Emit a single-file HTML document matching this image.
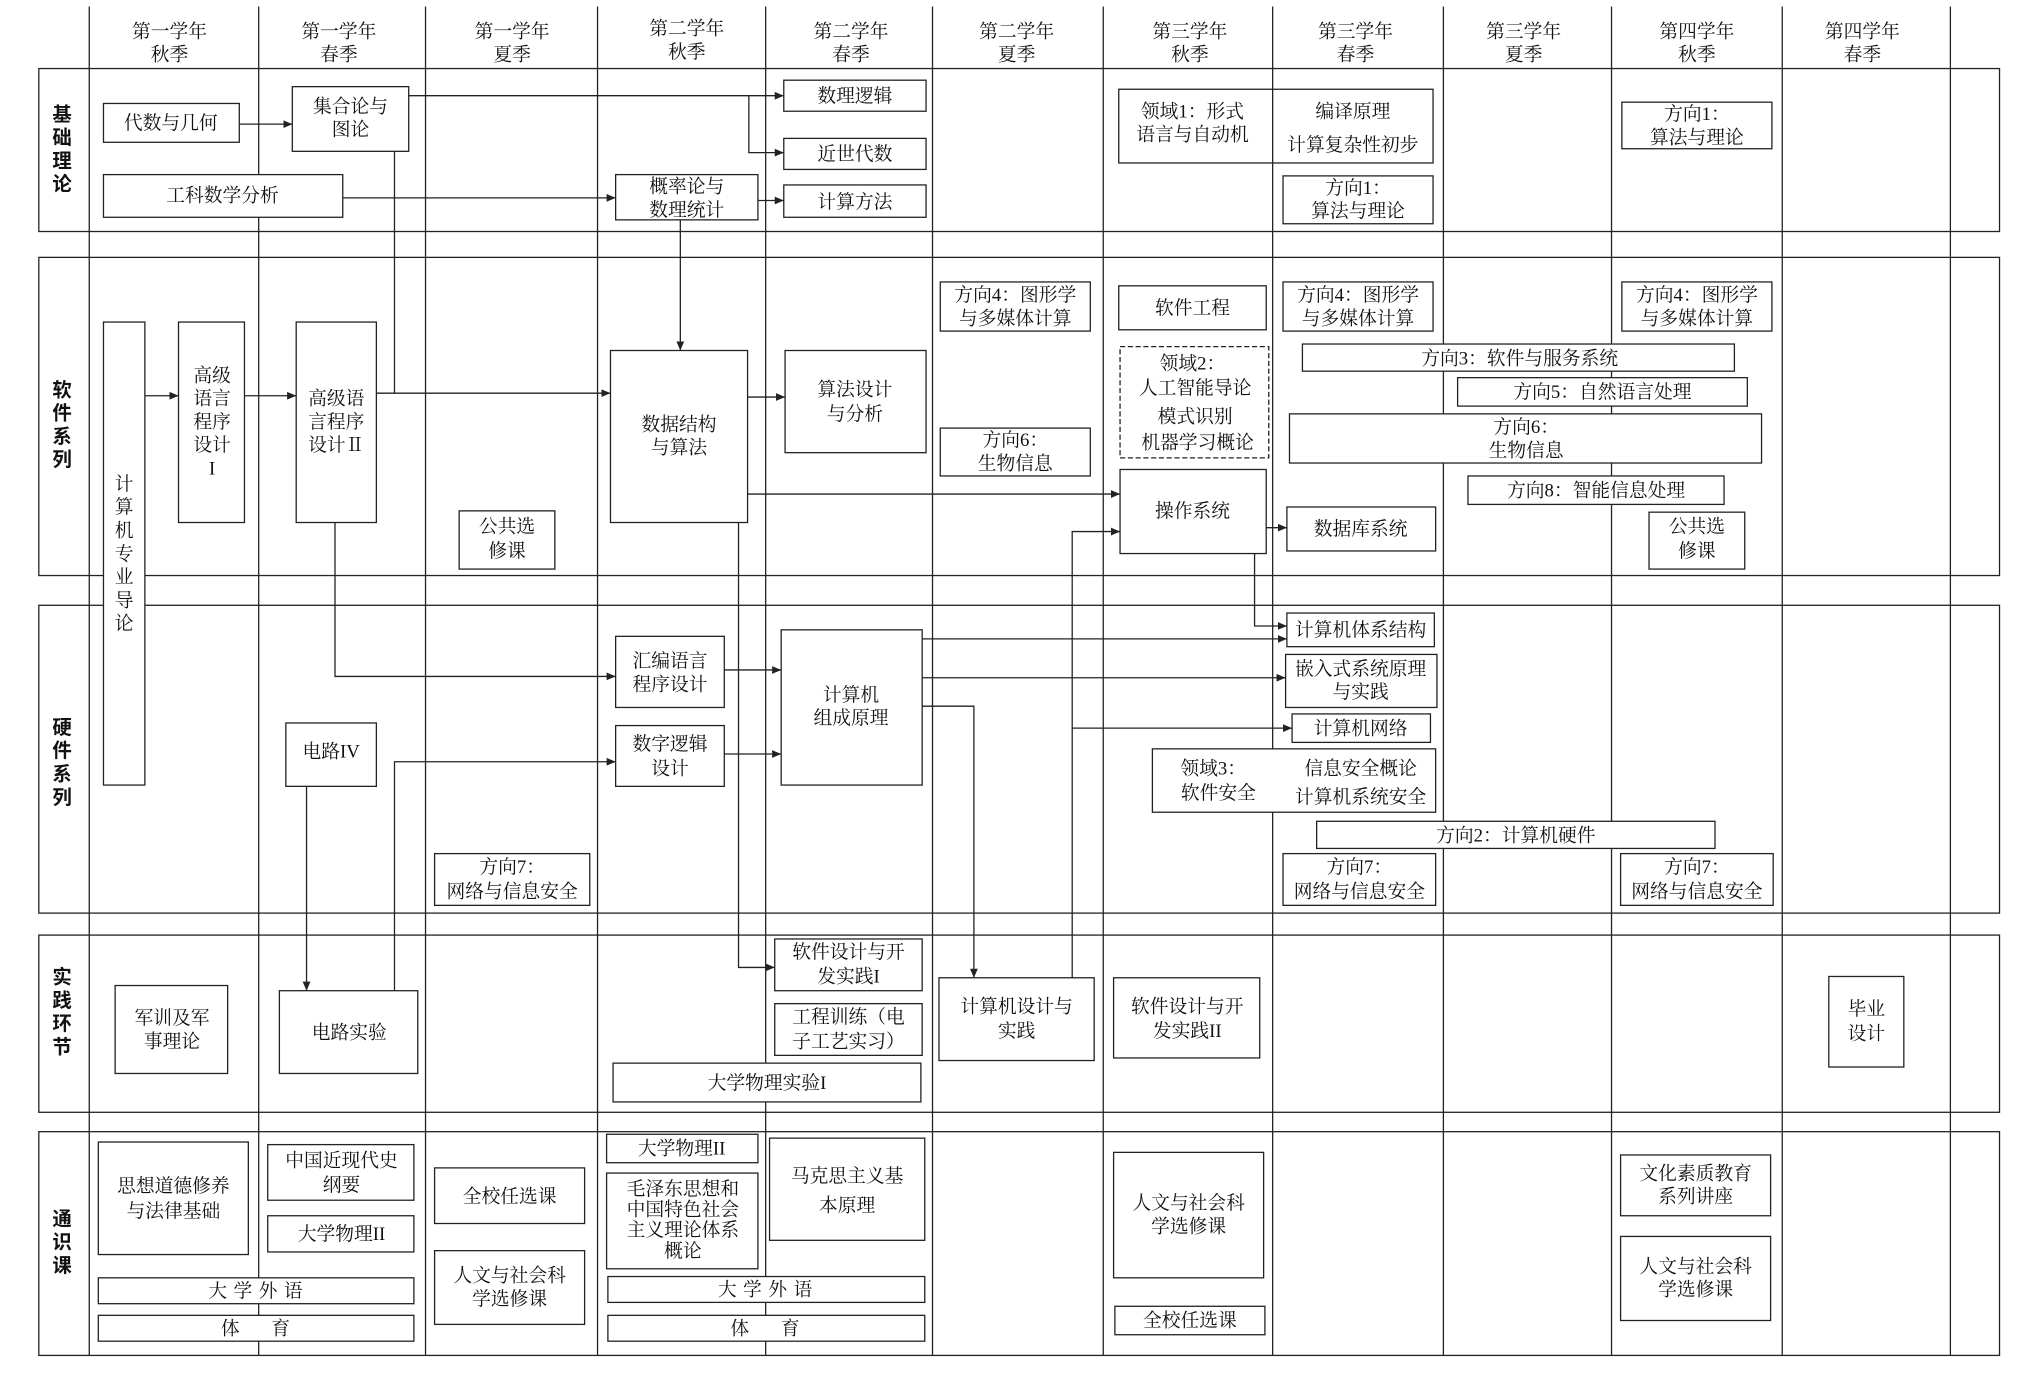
<!DOCTYPE html>
<html><head><meta charset="utf-8"><style>
html,body{margin:0;padding:0;background:#fff;width:2028px;height:1380px;overflow:hidden}
text{font-family:"Liberation Serif","Noto Serif CJK SC",serif;font-size:14.5px;fill:#111;text-anchor:middle;dominant-baseline:middle;transform:translateY(1.5px)}
.h{font-size:14px}
.s{font-family:"Liberation Sans","Noto Sans CJK SC",sans-serif;font-weight:bold;font-size:15px}
.w{letter-spacing:5px}
rect{fill:#fff;stroke:#222;stroke-width:1}
line,polyline{stroke:#222;stroke-width:1;fill:none}
</style></head><body>
<svg width="2028" height="1380" viewBox="0 0 1568 1067" xmlns="http://www.w3.org/2000/svg">
<defs><marker id="a" markerWidth="8" markerHeight="8" refX="7" refY="4" orient="auto" markerUnits="userSpaceOnUse"><path d="M0,1 L7,4 L0,7 z" fill="#222"/></marker></defs>
<rect x="0" y="0" width="1568" height="1067" style="fill:#fff;stroke:none"/>
<rect x="30" y="53" width="1516" height="126"/>
<rect x="30" y="199" width="1516" height="246"/>
<rect x="30" y="468" width="1516" height="238"/>
<rect x="30" y="723" width="1516" height="137"/>
<rect x="30" y="875" width="1516" height="173"/>
<g>
<line x1="69" y1="5" x2="69" y2="1048"/><line x1="200" y1="5" x2="200" y2="1048"/><line x1="329" y1="5" x2="329" y2="1048"/><line x1="462" y1="5" x2="462" y2="1048"/><line x1="592" y1="5" x2="592" y2="1048"/><line x1="721" y1="5" x2="721" y2="1048"/><line x1="853" y1="5" x2="853" y2="1048"/><line x1="984" y1="5" x2="984" y2="1048"/><line x1="1116" y1="5" x2="1116" y2="1048"/><line x1="1246" y1="5" x2="1246" y2="1048"/><line x1="1378" y1="5" x2="1378" y2="1048"/><line x1="1508" y1="5" x2="1508" y2="1048"/>
</g>
<g class="h">
<text x="131" y="24">第一学年</text><text x="131" y="42">秋季</text>
<text x="262" y="24">第一学年</text><text x="262" y="42">春季</text>
<text x="396" y="24">第一学年</text><text x="396" y="42">夏季</text>
<text x="531" y="22">第二学年</text><text x="531" y="40">秋季</text>
<text x="658" y="24">第二学年</text><text x="658" y="42">春季</text>
<text x="786" y="24">第二学年</text><text x="786" y="42">夏季</text>
<text x="920" y="24">第三学年</text><text x="920" y="42">秋季</text>
<text x="1048" y="24">第三学年</text><text x="1048" y="42">春季</text>
<text x="1178" y="24">第三学年</text><text x="1178" y="42">夏季</text>
<text x="1312" y="24">第四学年</text><text x="1312" y="42">秋季</text>
<text x="1440" y="24">第四学年</text><text x="1440" y="42">春季</text>
</g>
<g class="s">
<text class="s" x="48" y="88">基</text><text class="s" x="48" y="106">础</text><text class="s" x="48" y="124">理</text><text class="s" x="48" y="142">论</text>
<text class="s" x="48" y="301">软</text><text class="s" x="48" y="319">件</text><text class="s" x="48" y="337">系</text><text class="s" x="48" y="355">列</text>
<text class="s" x="48" y="562">硬</text><text class="s" x="48" y="580">件</text><text class="s" x="48" y="598">系</text><text class="s" x="48" y="616">列</text>
<text class="s" x="48" y="755">实</text><text class="s" x="48" y="773">践</text><text class="s" x="48" y="791">环</text><text class="s" x="48" y="809">节</text>
<text class="s" x="48" y="942">通</text><text class="s" x="48" y="960">识</text><text class="s" x="48" y="978">课</text>
</g>
<g>
<line x1="185" y1="96" x2="226" y2="96" marker-end="url(#a)"/>
<line x1="316" y1="74" x2="606" y2="74" marker-end="url(#a)"/>
<polyline points="579,74 579,118 606,118" marker-end="url(#a)"/>
<polyline points="305,117 305,304"/>
<line x1="265" y1="153" x2="476" y2="153" marker-end="url(#a)"/>
<line x1="586" y1="155" x2="606" y2="155" marker-end="url(#a)"/>
<line x1="526" y1="170" x2="526" y2="271" marker-end="url(#a)"/>
<line x1="112" y1="306" x2="138" y2="306" marker-end="url(#a)"/>
<line x1="189" y1="306" x2="229" y2="306" marker-end="url(#a)"/>
<line x1="291" y1="304" x2="472" y2="304" marker-end="url(#a)"/>
<line x1="578" y1="307" x2="607" y2="307" marker-end="url(#a)"/>
<line x1="578" y1="382" x2="866" y2="382" marker-end="url(#a)"/>
<polyline points="259,404 259,523 476,523" marker-end="url(#a)"/>
<line x1="560" y1="518" x2="604" y2="518" marker-end="url(#a)"/>
<line x1="560" y1="583" x2="604" y2="583" marker-end="url(#a)"/>
<line x1="237" y1="608" x2="237" y2="766" marker-end="url(#a)"/>
<polyline points="305,766 305,589 476,589" marker-end="url(#a)"/>
<polyline points="571,404 571,748 599,748" marker-end="url(#a)"/>
<line x1="713" y1="494" x2="995" y2="494" marker-end="url(#a)"/>
<line x1="713" y1="524" x2="994" y2="524" marker-end="url(#a)"/>
<polyline points="713,546 753,546 753,756" marker-end="url(#a)"/>
<polyline points="829,756 829,563 999,563" marker-end="url(#a)"/>
<polyline points="829,563 829,411 866,411" marker-end="url(#a)"/>
<line x1="979" y1="408" x2="995" y2="408" marker-end="url(#a)"/>
<polyline points="970,428 970,484 995,484" marker-end="url(#a)"/>
</g>
<rect x="80" y="80" width="105" height="30"/><text x="132" y="95">代数与几何</text>
<rect x="226" y="67" width="90" height="50"/><text x="271" y="82">集合论与</text><text x="271" y="100">图论</text>
<rect x="80" y="135" width="185" height="33"/><text x="172" y="151">工科数学分析</text>
<rect x="476" y="135" width="110" height="35"/><text x="531" y="144">概率论与</text><text x="531" y="162">数理统计</text>
<rect x="606" y="62" width="110" height="24"/><text x="661" y="74">数理逻辑</text>
<rect x="606" y="107" width="110" height="24"/><text x="661" y="119">近世代数</text>
<rect x="606" y="143" width="110" height="25"/><text x="661" y="156">计算方法</text>
<rect x="865" y="69" width="119" height="57"/><text x="922" y="86">领域1：形式</text><text x="922" y="104">语言与自动机</text>
<rect x="984" y="69" width="124" height="57"/><text x="1046" y="86">编译原理</text><text x="1046" y="112">计算复杂性初步</text>
<rect x="992" y="136" width="116" height="37"/><text x="1050" y="145">方向1：</text><text x="1050" y="163">算法与理论</text>
<rect x="1254" y="79" width="116" height="36"/><text x="1312" y="88">方向1：</text><text x="1312" y="106">算法与理论</text>
<rect x="80" y="249" width="32" height="358"/>
<text x="96" y="374">计</text><text x="96" y="392">算</text><text x="96" y="410">机</text><text x="96" y="428">专</text><text x="96" y="446">业</text><text x="96" y="464">导</text><text x="96" y="482">论</text>
<rect x="138" y="249" width="51" height="155"/><text x="164" y="290">高级</text><text x="164" y="308">语言</text><text x="164" y="326">程序</text><text x="164" y="344">设计</text><text x="164" y="362">I</text>
<rect x="229" y="249" width="62" height="155"/><text x="260" y="308">高级语</text><text x="260" y="326">言程序</text><text x="260" y="344">设计Ⅱ</text>
<rect x="472" y="271" width="106" height="133"/><text x="525" y="328">数据结构</text><text x="525" y="346">与算法</text>
<rect x="607" y="271" width="109" height="79"/><text x="661" y="301">算法设计</text><text x="661" y="320">与分析</text>
<rect x="355" y="395" width="74" height="45"/><text x="392" y="407">公共选</text><text x="392" y="426">修课</text>
<rect x="727" y="218" width="116" height="38"/><text x="785" y="228">方向4：图形学</text><text x="785" y="246">与多媒体计算</text>
<rect x="727" y="331" width="116" height="37"/><text x="785" y="340">方向6：</text><text x="785" y="358">生物信息</text>
<rect x="865" y="221" width="114" height="34"/><text x="922" y="238">软件工程</text>
<rect x="866" y="268" width="115" height="86" style="stroke-dasharray:4,2"/><text x="922" y="281">领域2：</text><text x="924" y="300">人工智能导论</text><text x="924" y="322">模式识别</text><text x="926" y="342">机器学习概论</text>
<rect x="866" y="363" width="113" height="65"/><text x="922" y="395">操作系统</text>
<rect x="992" y="218" width="116" height="38"/><text x="1050" y="228">方向4：图形学</text><text x="1050" y="246">与多媒体计算</text>
<rect x="1254" y="218" width="116" height="38"/><text x="1312" y="228">方向4：图形学</text><text x="1312" y="246">与多媒体计算</text>
<rect x="1007" y="266" width="334" height="21"/><text x="1175" y="277">方向3：软件与服务系统</text>
<rect x="1127" y="292" width="224" height="22"/><text x="1239" y="303">方向5：自然语言处理</text>
<rect x="997" y="320" width="365" height="38"/><text x="1180" y="330">方向6：</text><text x="1180" y="348">生物信息</text>
<rect x="1135" y="368" width="198" height="22"/><text x="1234" y="379">方向8：智能信息处理</text>
<rect x="995" y="392" width="115" height="34"/><text x="1052" y="409">数据库系统</text>
<rect x="1275" y="396" width="74" height="44"/><text x="1312" y="407">公共选</text><text x="1312" y="426">修课</text>
<rect x="476" y="492" width="84" height="55"/><text x="518" y="511">汇编语言</text><text x="518" y="529">程序设计</text>
<rect x="476" y="561" width="84" height="47"/><text x="518" y="575">数字逻辑</text><text x="518" y="594">设计</text>
<rect x="604" y="487" width="109" height="120"/><text x="658" y="537">计算机</text><text x="658" y="555">组成原理</text>
<rect x="221" y="559" width="70" height="49"/><text x="256" y="581">电路IV</text>
<rect x="995" y="474" width="114" height="26"/><text x="1052" y="487">计算机体系结构</text>
<rect x="994" y="506" width="117" height="41"/><text x="1052" y="517">嵌入式系统原理</text><text x="1052" y="535">与实践</text>
<rect x="999" y="552" width="107" height="22"/><text x="1052" y="563">计算机网络</text>
<rect x="891" y="579" width="219" height="49"/><text x="938" y="594">领域3：</text><text x="942" y="613">软件安全</text><text x="1052" y="594">信息安全概论</text><text x="1052" y="616">计算机系统安全</text>
<rect x="1018" y="635" width="308" height="21"/><text x="1172" y="646">方向2：计算机硬件</text>
<rect x="336" y="660" width="120" height="40"/><text x="396" y="670">方向7：</text><text x="396" y="689">网络与信息安全</text>
<rect x="992" y="660" width="118" height="40"/><text x="1051" y="670">方向7：</text><text x="1051" y="689">网络与信息安全</text>
<rect x="1253" y="660" width="118" height="40"/><text x="1312" y="670">方向7：</text><text x="1312" y="689">网络与信息安全</text>
<rect x="89" y="762" width="87" height="68"/><text x="133" y="787">军训及军</text><text x="133" y="805">事理论</text>
<rect x="216" y="766" width="107" height="64"/><text x="270" y="798">电路实验</text>
<rect x="599" y="726" width="114" height="40"/><text x="656" y="736">软件设计与开</text><text x="656" y="755">发实践I</text>
<rect x="599" y="776" width="114" height="40"/><text x="656" y="786">工程训练（电</text><text x="656" y="805">子工艺实习）</text>
<rect x="474" y="822" width="238" height="30"/><text x="593" y="837">大学物理实验I</text>
<rect x="726" y="756" width="120" height="64"/><text x="786" y="778">计算机设计与</text><text x="786" y="797">实践</text>
<rect x="861" y="756" width="113" height="62"/><text x="918" y="778">软件设计与开</text><text x="918" y="797">发实践II</text>
<rect x="1414" y="755" width="58" height="70"/><text x="1443" y="780">毕业</text><text x="1443" y="799">设计</text>
<rect x="76" y="883" width="116" height="87"/><text x="134" y="917">思想道德修养</text><text x="134" y="936">与法律基础</text>
<rect x="207" y="885" width="113" height="43"/><text x="264" y="897">中国近现代史</text><text x="264" y="916">纲要</text>
<rect x="207" y="940" width="113" height="28"/><text x="264" y="954">大学物理II</text>
<rect x="76" y="988" width="244" height="20"/><text class="w" x="200" y="998">大学外语</text>
<rect x="76" y="1017" width="244" height="20"/><text class="w" x="200" y="1027">体　育</text>
<rect x="336" y="903" width="116" height="43"/><text x="394" y="925">全校任选课</text>
<rect x="336" y="967" width="116" height="57"/><text x="394" y="986">人文与社会科</text><text x="394" y="1004">学选修课</text>
<rect x="469" y="877" width="117" height="22"/><text x="527" y="888">大学物理II</text>
<rect x="469" y="907" width="117" height="74"/><text x="528" y="919">毛泽东思想和</text><text x="528" y="935">中国特色社会</text><text x="528" y="951">主义理论体系</text><text x="528" y="967">概论</text>
<rect x="595" y="880" width="120" height="79"/><text x="655" y="909">马克思主义基</text><text x="655" y="932">本原理</text>
<rect x="470" y="987" width="245" height="20"/><text class="w" x="594" y="997">大学外语</text>
<rect x="470" y="1017" width="245" height="20"/><text class="w" x="594" y="1027">体　育</text>
<rect x="861" y="891" width="116" height="97"/><text x="919" y="930">人文与社会科</text><text x="919" y="948">学选修课</text>
<rect x="862" y="1010" width="116" height="22"/><text x="920" y="1021">全校任选课</text>
<rect x="1253" y="893" width="116" height="47"/><text x="1311" y="907">文化素质教育</text><text x="1311" y="925">系列讲座</text>
<rect x="1253" y="956" width="116" height="65"/><text x="1311" y="979">人文与社会科</text><text x="1311" y="997">学选修课</text>
</svg>
</body></html>
